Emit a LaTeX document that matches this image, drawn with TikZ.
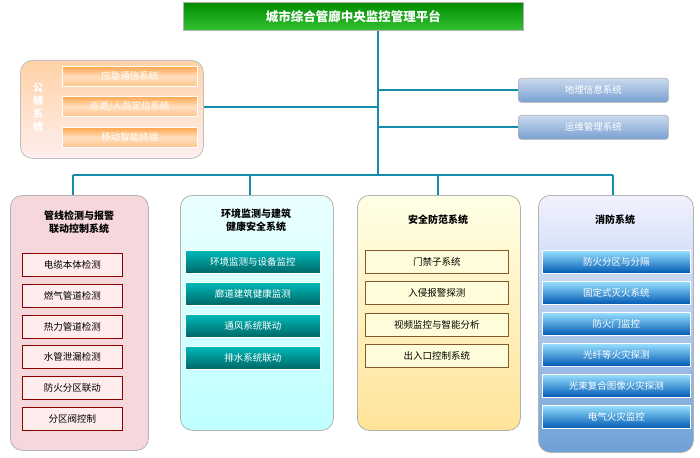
\documentclass[tikz,border=0pt]{standalone}
\usepackage{fontspec}
\setmainfont{Noto Sans CJK SC}
\usetikzlibrary{
  positioning,  % relative placement
  shadings
}
\definecolor{trunk}{RGB}{20,140,170}
\definecolor{pinkbg}{RGB}{245,215,220}
\definecolor{bluebg}{RGB}{110,160,215}
\definecolor{steel}{RGB}{120,160,210}
\tikzset{
  font=\fontsize{9.5}{11}\selectfont,
  x=1pt,
  y=-1pt,
  link/.style={draw=trunk,line width=1.6pt},
  group/.style={
    draw=gray!60,
    rounded corners=12pt,
    line width=0.8pt
  },
  item/.style={
    draw,
    minimum height=23pt,
    inner sep=1pt,
    anchor=north west,
    line width=0.7pt
  },
  pinkitem/.style={item,draw=red!55!black,fill=pink!30,text=black},
  tealitem/.style={item,draw=white,top color=teal!55!cyan,bottom color=teal!80!black,text=white},
  yellowitem/.style={item,draw=brown!70!black,fill=yellow!15,text=black},
  blueitem/.style={item,draw=white,top color=blue!30!cyan!40,bottom color=blue!50!cyan!70!black,text=white},
  orangeitem/.style={item,minimum height=20pt,draw=white,top color=orange!70,bottom color=orange!45,middle color=orange!25,text=white},
  grayitem/.style={item,minimum height=24pt,draw=gray!60,top color=steel!40,bottom color=steel,text=white,rounded corners=3pt},
  gtitle/.style={font=\fontsize{10}{13}\selectfont\bfseries,align=center}
}
\begin{document}
\begin{tikzpicture}
\useasboundingbox (0,0) rectangle (700,457);
% top platform
\node[draw=gray!60,line width=0.8pt,top color=green!55!black,bottom color=green!70!black!80,text=white,
      minimum width=340pt,minimum height=28pt,anchor=north west,font=\fontsize{12.5}{14}\selectfont\bfseries]
  (top) at (183,2) {城市综合管廊中央监控管理平台};
% trunk lines
\coordinate (hub) at (378,175);
\coordinate (auxjoin) at (378,107);
\coordinate (geojoin) at (378,90);
\coordinate (opsjoin) at (378,127);
\draw[link] (top.south -| hub) -- (hub);
% auxiliary group
\node[group,draw=gray!50,top color=orange!35,bottom color=pink!25,minimum width=183pt,minimum height=98pt,anchor=north west]
  (aux) at (20,60) {};
\node[text=white,font=\fontsize{10}{13}\selectfont\bfseries,align=center] (auxtitle) at (38,107) {公\\辅\\系\\统};
\node[orangeitem,minimum width=135pt] (aux1) at (62,66) {应急通信系统};
\node[orangeitem,minimum width=135pt] (aux2) at (62,96) {巡更/人员定位系统};
\node[orangeitem,minimum width=135pt] (aux3) at (62,127) {移动智能终端};
\draw[link] (aux.east |- auxjoin) -- (auxjoin);
% right systems
\node[grayitem,minimum width=150pt] (geo) at (518,78) {地理信息系统};
\node[grayitem,minimum width=150pt] (ops) at (518,115) {运维管理系统};
\draw[link] (geojoin) -- (geo.west |- geojoin);
\draw[link] (opsjoin) -- (ops.west |- opsjoin);
% branch bar
\coordinate (b1) at (73,175);
\coordinate (b4) at (613,175);
\draw[link] (b1) -- (b4);
% group 1
\node[group,fill=pinkbg,minimum width=138pt,minimum height=255pt,anchor=north west] (g1) at (10,195) {};
\node[gtitle] (g1t) at (79,222) {管线检测与报警\\联动控制系统};
\foreach \t [count=\i] in {电缆本体检测,燃气管道检测,热力管道检测,水管泄漏检测,防火分区联动,分区阀控制}
  \node[pinkitem,minimum width=100pt] (g1i\i) at (22,{253+(\i-1)*30.8}) {\t};
% group 2
\node[group,top color=cyan!8,bottom color=cyan!25,minimum width=153pt,minimum height=235pt,anchor=north west] (g2) at (180,195) {};
\node[gtitle] (g2t) at (256,220) {环境监测与建筑\\健康安全系统};
\foreach \t [count=\i] in {环境监测与设备监控,廊道建筑健康监测,通风系统联动,排水系统联动}
  \node[tealitem,minimum width=135pt] (g2i\i) at (185,{250+(\i-1)*32}) {\t};
% group 3
\node[group,top color=yellow!10,bottom color=yellow!45!orange!40,minimum width=163pt,minimum height=235pt,anchor=north west] (g3) at (357,195) {};
\node[gtitle] (g3t) at (438,220) {安全防范系统};
\foreach \t [count=\i] in {门禁子系统,入侵报警探测,视频监控与智能分析,出入口控制系统}
  \node[yellowitem,minimum width=143pt] (g3i\i) at (365,{250+(\i-1)*31.3}) {\t};
% group 4
\node[group,top color=blue!5,bottom color=bluebg,minimum width=155pt,minimum height=257pt,anchor=north west] (g4) at (538,195) {};
\node[gtitle] (g4t) at (615,220) {消防系统};
\foreach \t [count=\i] in {防火分区与分隔,固定式灭火系统,防火门监控,光纤等火灾探测,光束复合图像火灾探测,电气火灾监控}
  \node[blueitem,minimum width=148pt] (g4i\i) at (542,{250+(\i-1)*31}) {\t};
% drops
\draw[link] (b1) -- (g1.north -| b1);
\draw[link] (250,175) -- (g2.north -| 250,0);
\draw[link] (438,175) -- (g3.north -| 438,0);
\draw[link] (b4) -- (g4.north -| b4);
\end{tikzpicture}
\end{document}
